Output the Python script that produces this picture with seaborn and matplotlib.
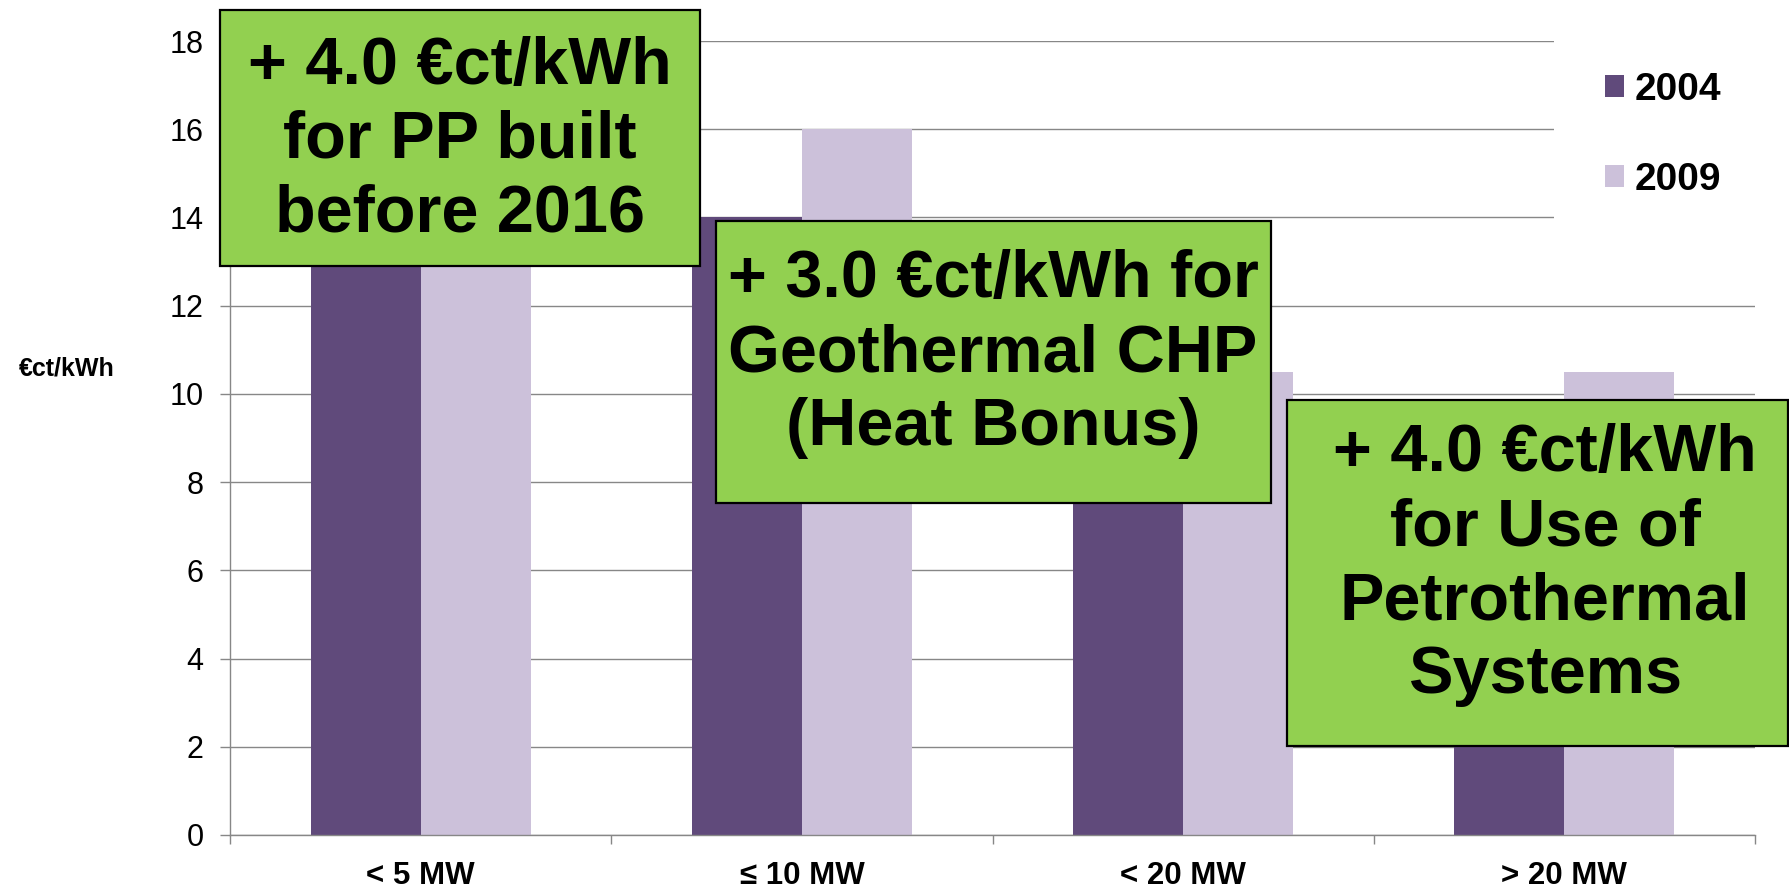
import pandas as pd
import seaborn as sns
import matplotlib
matplotlib.use('Agg')
import matplotlib.pyplot as plt
from matplotlib.patches import Rectangle
from matplotlib.ticker import FixedLocator

# feed-in tariffs for geothermal power (EEG), ct per kWh
sizes = ['< 5 MW', '≤ 10 MW', '< 20 MW', '> 20 MW']
years = ['2004', '2009']
tariff_2004 = [15.0, 14.0, 8.95, 7.16]
tariff_2009 = [16.0, 16.0, 10.5, 10.5]

note_pp = '+ 4.0 €ct/kWh\nfor PP built\nbefore 2016'
note_chp = '+ 3.0 €ct/kWh for\nGeothermal CHP\n(Heat Bonus)'
note_petro = '+ 4.0 €ct/kWh\nfor Use of\nPetrothermal\nSystems'

dark = '#604a7b'
light = '#ccc1da'
green = '#92d050'
grey = '#878787'

W, H = 1789, 891


def fx(px):
    return px / W


def fy(py):
    return 1 - py / H


df = pd.DataFrame({
    'size': sizes * 2,
    'year': [years[0]] * 4 + [years[1]] * 4,
    'tariff': tariff_2004 + tariff_2009,
})

sns.set_style('white')
plt.rcParams['font.family'] = ['Liberation Sans', 'DejaVu Sans']
plt.rcParams['text.color'] = 'black'
plt.rcParams['axes.labelcolor'] = 'black'
plt.rcParams['xtick.color'] = 'black'
plt.rcParams['ytick.color'] = 'black'

fig = plt.figure(figsize=(W / 100, H / 100), dpi=100)
ax = fig.add_axes([fx(230), fy(835), fx(1755) - fx(230), fy(41) - fy(835)])

sns.barplot(data=df, x='size', y='tariff', hue='year', palette=[dark, light],
            width=0.577, saturation=1, linewidth=0, gap=0, ax=ax)

ax.set_ylim(0, 18)
ax.set_xlim(-0.5, 3.5)
ax.set_yticks(range(0, 19, 2))
ax.yaxis.grid(True, color=grey, linewidth=1.0)
ax.set_axisbelow(True)
for s in ['top', 'right']:
    ax.spines[s].set_visible(False)
for s in ['left', 'bottom']:
    ax.spines[s].set_color(grey)
    ax.spines[s].set_linewidth(1.0)

ax.tick_params(axis='y', length=7, width=1, color=grey, labelcolor='black',
               pad=12, labelsize=22, left=True)
ax.tick_params(axis='x', which='major', length=0, pad=19, labelsize=22.5,
               labelcolor='black')
ax.xaxis.set_minor_locator(FixedLocator([-0.5, 0.5, 1.5, 2.5, 3.5]))
ax.tick_params(axis='x', which='minor', length=6.5, width=1, color=grey, bottom=True)
for lab in ax.get_xticklabels():
    lab.set_fontweight('bold')

ax.set_xlabel('')
ax.set_ylabel('€ct/kWh', rotation=0, fontsize=18, fontweight='bold',
              ha='center', va='center', color='black')
ax.yaxis.set_label_coords((67 - 230) / 1525, (835 - 368) / 794)

handles, labels = ax.get_legend_handles_labels()
leg = ax.legend(handles, labels, loc='upper left',
                bbox_to_anchor=(fx(1554), fy(21)), bbox_transform=fig.transFigure,
                frameon=True, facecolor='white', edgecolor='none', framealpha=1,
                prop={'size': 28, 'weight': 'bold'}, borderpad=1.3, borderaxespad=0,
                handlelength=0.49, handleheight=0.49, handletextpad=0.28,
                labelspacing=1.4, labelcolor='black')

# green call-out boxes
boxes = [
    (220, 10, 700, 266, note_pp, 460, 141),
    (716, 221, 1271, 503, note_chp, 993, 354),
    (1287, 400, 1788, 746, note_petro, 1545, 565),
]
for x0, y0, x1, y1, txt, cx, cy in boxes:
    fig.patches.append(Rectangle((fx(x0), fy(y1)), fx(x1) - fx(x0), fy(y0) - fy(y1),
                                 transform=fig.transFigure, facecolor=green,
                                 edgecolor='black', linewidth=1.6, zorder=3))
    fig.text(fx(cx), fy(cy), txt, ha='center', va='center', multialignment='center',
             fontsize=48, fontweight='bold', linespacing=1.25, color='black', zorder=4)

fig.savefig('out.png', dpi=100)
